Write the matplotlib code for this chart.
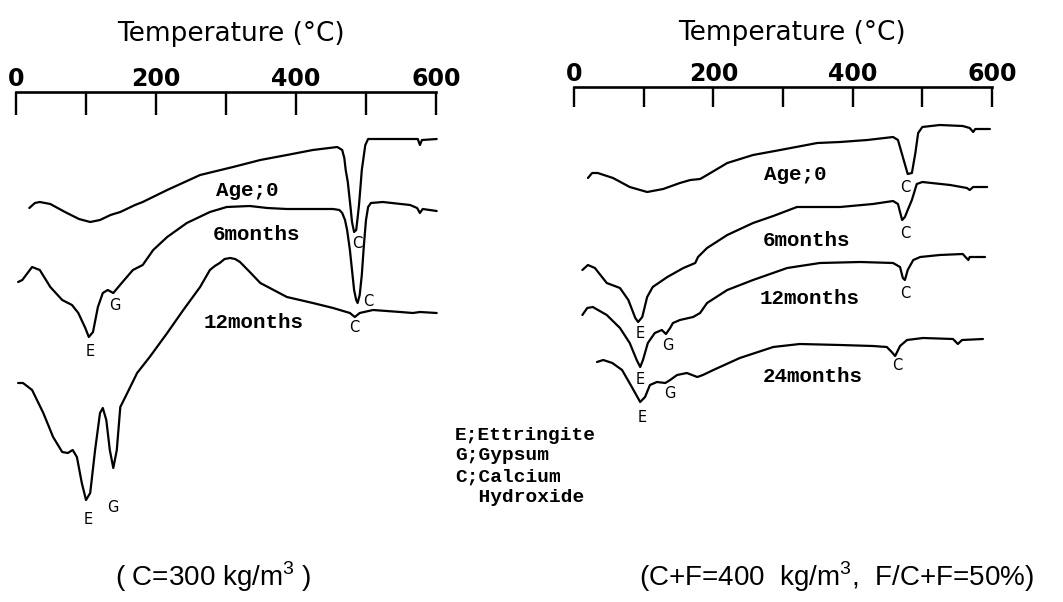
import matplotlib
matplotlib.use('Agg')
from matplotlib import pyplot as plt

plt.rcParams['mathtext.fontset'] = 'custom'
plt.rcParams['mathtext.rm'] = 'Liberation Sans'

# DTA traces, temperature (C) vs. signal (arbitrary units)
# left panel: C=300 kg/m3
l_age0_t = [19, 27, 34, 49, 70, 90, 106, 120, 135, 149, 170, 181, 216, 263, 310, 349, 387, 424,
            459, 466, 469, 471, 474, 476, 478, 480, 483, 486, 488, 490, 492, 494, 497, 499, 503,
            534, 574, 577, 580, 601]
l_age0_v = [392, 397, 398, 396, 388, 381, 378, 380, 385, 388, 395, 398, 410, 425, 433, 440, 445,
            450, 453, 450, 442, 430, 418, 405, 392, 378, 368, 370, 382, 395, 412, 430, 445, 455,
            461, 461, 461, 455, 460, 461]

l_6m_t = [3, 9, 23, 34, 49, 66, 80, 89, 99, 104, 110, 117, 124, 131, 139, 151, 167, 181, 196,
          216, 244, 277, 301, 334, 359, 387, 424, 453, 462, 466, 470, 473, 477, 480, 483, 486,
          488, 491, 494, 497, 500, 503, 507, 524, 563, 573, 577, 581, 601]
l_6m_v = [318, 320, 333, 330, 313, 300, 295, 287, 272, 263, 268, 293, 307, 310, 307, 317, 330,
          335, 350, 363, 377, 388, 393, 394, 392, 391, 391, 391, 390, 387, 380, 370, 350, 330,
          310, 300, 297, 305, 325, 355, 380, 393, 397, 398, 395, 392, 387, 391, 389]

l_12m_t = [3, 10, 23, 39, 53, 66, 74, 81, 87, 94, 100, 106, 113, 120, 124, 129, 134, 139, 144,
           149, 159, 173, 191, 216, 239, 263, 277, 284, 291, 298, 306, 313, 320, 334, 349, 387,
           424, 453, 477, 484, 491, 510, 549, 567, 577, 601]
l_12m_v = [217, 217, 210, 187, 163, 148, 147, 150, 143, 117, 100, 107, 150, 187, 192, 180, 150,
           132, 150, 193, 207, 227, 243, 267, 290, 313, 330, 334, 337, 341, 342, 341, 338, 328,
           317, 303, 297, 292, 287, 283, 287, 290, 288, 287, 288, 287]

# right panel: C+F=400 kg/m3, F/C+F=50%
r_age0_t = [20, 26, 34, 56, 80, 105, 128, 152, 167, 181, 191, 220, 257, 296, 334, 349, 382,
            421, 458, 465, 472, 479, 485, 490, 494, 500, 525, 558, 568, 573, 576, 597]
r_age0_v = [422, 427, 427, 422, 413, 408, 411, 417, 420, 421, 425, 437, 445, 450, 455, 457, 458,
            460, 463, 460, 443, 426, 427, 447, 467, 473, 475, 474, 472, 468, 471, 471]

r_6m_t = [12, 20, 30, 47, 66, 78, 88, 92, 98, 105, 113, 134, 157, 174, 178, 191, 220, 257,
          286, 320, 382, 429, 458, 465, 471, 475, 479, 485, 492, 500, 540, 564, 568, 573, 593]
r_6m_v = [330, 335, 332, 317, 312, 300, 282, 278, 283, 303, 313, 323, 332, 337, 343, 352, 365,
          377, 384, 393, 393, 396, 399, 396, 380, 383, 390, 400, 416, 418, 415, 412, 410, 413, 413]

r_12m_t = [12, 19, 27, 47, 66, 80, 90, 95, 99, 106, 116, 126, 132, 138, 142, 152, 171, 181,
           191, 220, 257, 306, 353, 411, 458, 468, 472, 475, 479, 487, 497, 525, 558, 566, 568, 590]
r_12m_v = [285, 292, 293, 285, 272, 257, 240, 233, 240, 257, 267, 270, 266, 272, 277, 280, 283,
           287, 297, 310, 320, 332, 337, 338, 337, 333, 322, 320, 330, 340, 343, 345, 346, 340,
           343, 343]

r_24m_t = [33, 42, 55, 69, 83, 95, 102, 109, 119, 131, 138, 148, 162, 177, 185, 200, 238, 286,
           324, 382, 429, 449, 456, 461, 468, 478, 501, 544, 551, 557, 587]
r_24m_v = [238, 240, 237, 230, 213, 198, 203, 215, 218, 217, 220, 225, 227, 223, 225, 230, 242,
           253, 256, 255, 254, 253, 248, 244, 254, 260, 262, 261, 256, 260, 261]

# curve captions and peak letters (temperature, signal, text)
l_labels = [(330, 410, 'Age;0'), (344, 365, '6months'), (339, 277, '12months')]
l_peaks = [(487, 357, 'C'), (503, 298, 'C'), (483, 272, 'C'), (141, 295, 'G'),
           (106, 248, 'E'), (103, 80, 'E'), (139, 92, 'G')]
r_labels = [(317, 425, 'Age;0'), (334, 360, '6months'), (338, 302, '12months'),
            (343, 224, '24months')]
r_peaks = [(475, 412, 'C'), (475, 367, 'C'), (95, 267, 'E'), (475, 306, 'C'), (135, 255, 'G'),
           (95, 220, 'E'), (464, 235, 'C'), (138, 206, 'G'), (98, 182, 'E')]

legend_lines = ['E;Ettringite', 'G;Gypsum', 'C;Calcium', '  Hydroxide']

W, H = 1063, 602
fig = plt.figure(figsize=(W / 100, H / 100), dpi=100)

MONO = ['Liberation Mono', 'DejaVu Sans Mono']


def panel(x0, x1, y_top, y_bot, tick_len):
    ax = fig.add_axes([x0 / W, (H - y_bot) / H, (x1 - x0) / W, (y_bot - y_top) / H])
    ax.set_xlim(0, 600)
    ax.set_ylim(600 - y_bot, 600 - y_top)
    ax.xaxis.tick_top()
    ax.set_xticks([0, 200, 400, 600])
    ax.set_xticks([100, 300, 500], minor=True)
    ax.tick_params(axis='x', which='both', direction='in', length=tick_len, width=1.7,
                   pad=1, labelsize=17, top=True, bottom=False, labeltop=True,
                   labelbottom=False)
    for lab in ax.get_xticklabels():
        lab.set_fontweight('bold')
    ax.set_yticks([])
    for s in ['left', 'right', 'bottom']:
        ax.spines[s].set_visible(False)
    ax.spines['top'].set_linewidth(1.9)
    ax.patch.set_alpha(0)
    return ax


line_kw = dict(color='black', lw=1.6, clip_on=False, solid_joinstyle='round',
               solid_capstyle='round')

ax1 = panel(16, 436, 92, 592, 16.5)
for t, v in [(l_age0_t, l_age0_v), (l_6m_t, l_6m_v), (l_12m_t, l_12m_v)]:
    ax1.plot(t, v, **line_kw)

ax2 = panel(574, 992, 87, 592, 14.5)
for t, v in [(r_age0_t, r_age0_v), (r_6m_t, r_6m_v), (r_12m_t, r_12m_v), (r_24m_t, r_24m_v)]:
    ax2.plot(t, v, **line_kw)

for ax, labels, peaks in [(ax1, l_labels, l_peaks), (ax2, r_labels, r_peaks)]:
    for t, v, s in labels:
        ax.text(t, v, s, ha='center', va='center', fontsize=15, family=MONO,
                fontweight='bold')
    for t, v, s in peaks:
        ax.text(t, v, s, ha='center', va='center', fontsize=10.5)

fig.text(231 / W, 1 - 34 / H, 'Temperature (°C)', ha='center', va='center', fontsize=19)
fig.text(792 / W, 1 - 33 / H, 'Temperature (°C)', ha='center', va='center', fontsize=19)

for i, line in enumerate(legend_lines):
    fig.text(455 / W, 1 - (435 + i * 21) / H, line, ha='left', va='center',
             fontsize=14, family=MONO, fontweight='bold')

fig.text(213 / W, 1 - 577 / H, '( C=300 kg/m$^3$ )', ha='center', va='center',
         fontsize=20, family='Liberation Sans')
fig.text(836 / W, 1 - 577 / H, '(C+F=400  kg/m$^3$,  F/C+F=50%)', ha='center',
         va='center', fontsize=20, family='Liberation Sans')

fig.savefig('out.png', dpi=100)
